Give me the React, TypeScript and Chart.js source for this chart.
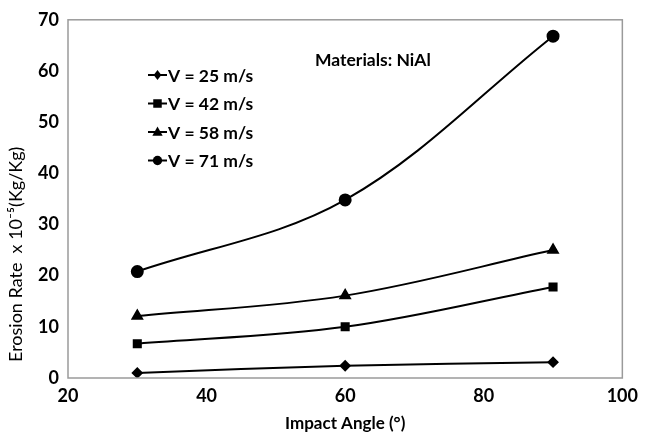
import React, { useEffect, useRef } from "react";
import { Chart, registerables } from "chart.js";

Chart.register(...registerables);

const angles = [30, 60, 90];
const v25 = [1.0, 2.4, 3.1];
const v42 = [6.7, 10.0, 17.8];
const v58 = [12.1, 16.1, 25.0];
const v71 = [20.8, 34.8, 66.8];
const seriesLabels = ["V = 25 m/s", "V = 42 m/s", "V = 58 m/s", "V = 71 m/s"];
const pointStyles = ["rectRot", "rect", "triangle", "circle"];
const pointRadii = [4.5, 5, 5.5, 5.5];
const xTicks = [20, 40, 60, 80, 100];
const yTicks = [0, 10, 20, 30, 40, 50, 60, 70];
const annotation = "Materials: NiAl";
const yTitle = "Erosion Rate  x 10⁻⁵(Kg/Kg)";

const FONT = "Lato, 'Open Sans', sans-serif";

const overlayPlugin = {
  id: "overlay",
  afterDraw(chart: any) {
    const { ctx, chartArea } = chart;
    ctx.save();
    ctx.strokeStyle = "#9a9a9a";
    ctx.lineWidth = 1.5;
    ctx.strokeRect(chartArea.left, chartArea.top, chartArea.right - chartArea.left, chartArea.bottom - chartArea.top);
    const lx0 = 148;
    const lx1 = 167;
    const startY = 75;
    const step = 28.5;
    chart.data.datasets.forEach((ds: any, i: number) => {
      const y = startY + i * step;
      ctx.strokeStyle = "#000";
      ctx.lineWidth = 2;
      ctx.beginPath();
      ctx.moveTo(lx0, y);
      ctx.lineTo(lx1, y);
      ctx.stroke();
      ctx.fillStyle = "#000";
      const r = ds.pointRadius * 0.85;
      drawMarker(ctx, ds.pointStyle, (lx0 + lx1) / 2, y, r);
      ctx.font = "bold 17.5px " + FONT;
      ctx.textBaseline = "middle";
      ctx.textAlign = "left";
      ctx.fillText(ds.label, lx1 + 1, y + 1);
    });
    ctx.font = "bold 17.5px " + FONT;
    ctx.textAlign = "left";
    ctx.textBaseline = "middle";
    ctx.fillText(annotation, 315, 60);
    // y axis title
    ctx.translate(16, 362);
    ctx.rotate(-Math.PI / 2);
    ctx.font = "18px " + FONT;
    ctx.textAlign = "left";
    ctx.textBaseline = "middle";
    ctx.fillText(yTitle, 0, 0);
    ctx.restore();
  },
};

function drawMarker(ctx: CanvasRenderingContext2D, style: string, x: number, y: number, r: number) {
  ctx.beginPath();
  if (style === "circle") {
    ctx.arc(x, y, r, 0, Math.PI * 2);
  } else if (style === "rect") {
    ctx.rect(x - r, y - r, 2 * r, 2 * r);
  } else if (style === "rectRot") {
    ctx.moveTo(x, y - r * 1.3);
    ctx.lineTo(x + r, y);
    ctx.lineTo(x, y + r * 1.3);
    ctx.lineTo(x - r, y);
    ctx.closePath();
  } else if (style === "triangle") {
    ctx.moveTo(x, y - r * 1.2);
    ctx.lineTo(x + r * 1.1, y + r * 0.8);
    ctx.lineTo(x - r * 1.1, y + r * 0.8);
    ctx.closePath();
  }
  ctx.fill();
}

export default function App() {
  const ref = useRef<HTMLCanvasElement>(null);
  useEffect(() => {
    document.body.style.margin = "0";
    const series = [v25, v42, v58, v71];
    const chart = new Chart(ref.current as HTMLCanvasElement, {
      type: "line",
      data: {
        datasets: series.map((vals, i) => ({
          label: seriesLabels[i],
          data: angles.map((a, j) => ({ x: a, y: vals[j] })),
          borderColor: "#000",
          backgroundColor: "#000",
          borderWidth: 2,
          pointStyle: pointStyles[i] as any,
          pointRadius: pointRadii[i],
          pointBackgroundColor: "#000",
          pointBorderColor: "#000",
          tension: 0.35,
        })),
      },
      options: {
        animation: false,
        responsive: false,
        layout: { padding: { top: 18, right: 15, left: 0, bottom: 0 } },
        plugins: { legend: { display: false }, tooltip: { enabled: false } },
        scales: {
          x: {
            type: "linear",
            min: 20,
            max: 100,
            afterBuildTicks: (s: any) => {
              s.ticks = xTicks.map((v) => ({ value: v }));
            },
            afterFit: (s: any) => {
              s.height = 57;
            },
            grid: { display: false, drawTicks: false },
            border: { display: false },
            ticks: {
              color: "#000",
              font: { family: FONT, size: 18, weight: "bold" },
              padding: 7,
              maxRotation: 0,
            },
            title: {
              display: true,
              text: "Impact Angle (°)",
              color: "#000",
              font: { family: FONT, size: 17, weight: "bold" },
              padding: { top: 4, bottom: 1 },
            },
          },
          y: {
            type: "linear",
            min: 0,
            max: 70,
            afterBuildTicks: (s: any) => {
              s.ticks = yTicks.map((v) => ({ value: v }));
            },
            afterFit: (s: any) => {
              s.width = 68;
            },
            grid: { display: false, drawTicks: false },
            border: { display: false },
            ticks: {
              color: "#000",
              font: { family: FONT, size: 18, weight: "bold" },
              padding: 9,
            },
            title: { display: false },
          },
        },
      },
      plugins: [overlayPlugin],
    } as any);
    return () => chart.destroy();
  }, []);
  return (
    <div style={{ width: 645, height: 435, background: "#fff" }}>
      <canvas ref={ref} width={645} height={435} style={{ display: "block" }} />
    </div>
  );
}
